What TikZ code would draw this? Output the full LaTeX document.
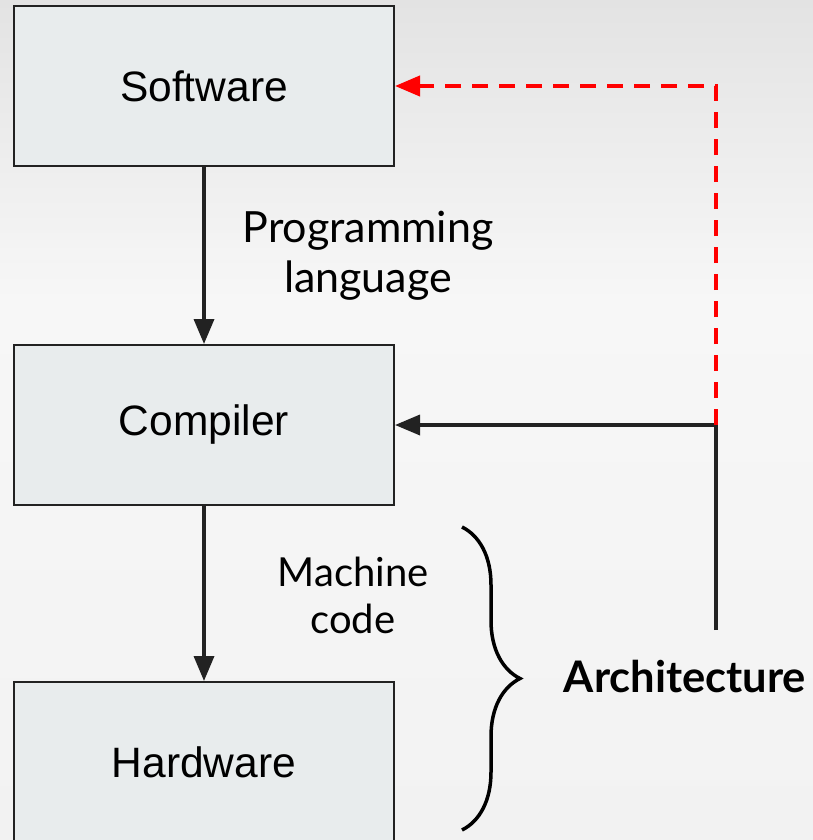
\documentclass[tikz,border=0pt]{standalone}
\usepackage{fontspec}
\setmainfont{Liberation Sans}
\newfontfamily\latofont{Lato}
\usetikzlibrary{arrows.meta,decorations.pathreplacing,positioning}
\definecolor{boxgray}{HTML}{E8ECED}
\definecolor{bgtop}{HTML}{E3E3E3}
\definecolor{bgmid}{HTML}{F7F7F7}
\definecolor{bgbot}{HTML}{F2F2F2}
\definecolor{edgegray}{HTML}{222222}
\tikzset{
  block/.style={draw=edgegray,line width=2pt,fill=boxgray,
    minimum width=380pt,minimum height=160pt,inner sep=0pt,
    font=\fontsize{42.5}{50}\selectfont},
  lbl/.style={align=center,font=\latofont\fontsize{43}{50}\selectfont},
  flow/.style={line width=3.5pt,draw=edgegray,-{Triangle[length=25pt,width=20pt]}},
  backflow/.style={line width=4pt,draw=red,dash pattern=on 16pt off 11pt,
    -{Triangle[length=25pt,width=20pt]}},
  brace/.style={line width=3.5pt,decorate,decoration={brace,amplitude=58pt}}
}

\begin{document}
\begin{tikzpicture}[x=1pt,y=-1pt]
    \useasboundingbox (0,0) rectangle (813,840);
    % background
    \shade[top color=bgtop,bottom color=bgmid] (0,0) rectangle (813,300.5);
    \shade[top color=bgmid,bottom color=bgbot] (0,300) rectangle (813,840);
    \clip (0,0) rectangle (813,840);

    \node[block](sw) at (204,86) {Software};
    \node[block](comp) at (204,425) {Compiler};
    \node[block](hw) at (204,762) {Hardware};

    \node[lbl](pl) at (368,256) {Programming\\language};
    \node[lbl,font=\latofont\fontsize{40}{47}\selectfont](mc) at (353,595) {Machine\\code};
    \node[lbl,font=\latofont\bfseries\fontsize{43.5}{50}\selectfont](arch) at (685,677) {Architecture};

    \coordinate (archtop) at (716,630);
    \coordinate (split) at (archtop |- comp.east);
    \coordinate (bt) at (462,527);
    \coordinate (bb) at (462,830);

    \draw[flow] (sw) -- (comp);
    \draw[flow] (comp) -- (hw);
    \draw[flow] (archtop) |- (comp.east);
    \draw[backflow] (split) |- (sw.east);
    \draw[brace] (bt) -- (bb);
  \end{tikzpicture}
\end{document}
